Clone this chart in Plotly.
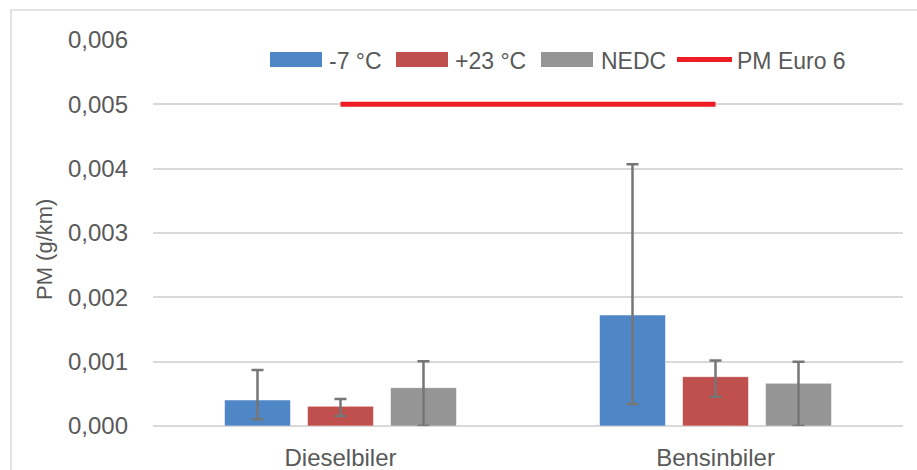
import plotly.graph_objects as go

categories = ["Dieselbiler", "Bensinbiler"]
series_names = ["-7 °C", "+23 °C", "NEDC"]
line_name = "PM Euro 6"
values_m7 = [0.000404, 0.001725]
err_hi_m7 = [0.00087, 0.00407]
err_lo_m7 = [0.000104, 0.000342]
values_p23 = [0.000306, 0.000767]
err_hi_p23 = [0.00042, 0.00102]
err_lo_p23 = [0.000155, 0.000456]
values_nedc = [0.000596, 0.000663]
err_hi_nedc = [0.001006, 0.001]
err_lo_nedc = [0.0, 0.0]
euro6_limit = [0.005, 0.005]
y_ticks = [0, 0.001, 0.002, 0.003, 0.004, 0.005, 0.006]

colors = ["#4f86c6", "#c0504d", "#959595"]
LINE_COLOR = "#ee1c25"
FONT = "Liberation Sans"
TXT = "#595959"

# plot-area geometry (pixels)
L, R, T, B = 153, 14, 40, 44
W, H = 917, 470
PW, PH = W - L - R, H - T - B


def px(x):
    return (x - L) / PW


def py(y):
    return (H - B - y) / PH


fig = go.Figure()
for name, vals, hi, lo, col in [
    (series_names[0], values_m7, err_hi_m7, err_lo_m7, colors[0]),
    (series_names[1], values_p23, err_hi_p23, err_lo_p23, colors[1]),
    (series_names[2], values_nedc, err_hi_nedc, err_lo_nedc, colors[2]),
]:
    fig.add_trace(go.Bar(
        x=categories, y=vals, name=name, showlegend=False,
        marker=dict(color=col, line=dict(color="rgba(255,255,255,0.5)", width=1)),
        error_y=dict(type="data", symmetric=False,
                     array=[h - v for h, v in zip(hi, vals)],
                     arrayminus=[v - l for v, l in zip(vals, lo)],
                     color="#767676", thickness=2.5, width=6),
    ))

fig.add_trace(go.Scatter(
    x=categories, y=euro6_limit, name=line_name, mode="lines", showlegend=False,
    line=dict(color=LINE_COLOR, width=5),
))

fig.update_layout(
    width=W, height=H,
    margin=dict(l=L, r=R, t=T, b=B, autoexpand=False),
    plot_bgcolor="white", paper_bgcolor="white",
    separators=",.",
    barmode="group", bargap=0.336, bargroupgap=0.205,
    font=dict(family=FONT, color=TXT, size=22),
    xaxis=dict(showgrid=False, tickfont=dict(size=24, color=TXT), ticks="", showline=False,
               range=[-0.5, 1.5], ticklabelstandoff=15, automargin=False),
    yaxis=dict(range=[0, 0.006], tickvals=y_ticks, tickformat=".3f",
               showgrid=True, gridcolor="#d9d9d9", gridwidth=1.5,
               zeroline=True, zerolinecolor="#d9d9d9", zerolinewidth=1.5,
               tickfont=dict(size=24, color=TXT), ticklabelstandoff=24, automargin=False),
    showlegend=False,
)

# y-axis title
fig.add_annotation(text="PM (g/km)", xref="paper", yref="paper", x=px(45), y=py(250),
                   textangle=-90, showarrow=False, xanchor="center", yanchor="middle",
                   font=dict(size=22, color=TXT, family=FONT))

# custom legend
legend_items = [
    (series_names[0], colors[0], 270, 322, 327, "box"),
    (series_names[1], colors[1], 396, 448, 453, "box"),
    (series_names[2], colors[2], 541, 593, 599, "box"),
    (line_name, LINE_COLOR, 677, 732, 735, "line"),
]
for label, col, x0, x1, tx, kind in legend_items:
    if kind == "box":
        fig.add_shape(type="rect", xref="paper", yref="paper",
                      x0=px(x0), x1=px(x1), y0=py(67), y1=py(52),
                      fillcolor=col, line=dict(width=0))
    else:
        fig.add_shape(type="line", xref="paper", yref="paper",
                      x0=px(x0), x1=px(x1), y0=py(59.5), y1=py(59.5),
                      line=dict(color=col, width=5))
    fig.add_annotation(text=label, xref="paper", yref="paper", x=px(tx), y=py(61),
                       xanchor="left", yanchor="middle", showarrow=False,
                       font=dict(size=23, color=TXT, family=FONT))

# outer chart border
fig.add_shape(type="rect", xref="paper", yref="paper",
              x0=px(11), x1=px(W + 20), y0=py(H + 20), y1=py(10),
              line=dict(color="#d9d9d9", width=1.5), fillcolor="rgba(0,0,0,0)", layer="below")

fig.write_html("out.html", config={"displayModeBar": False},
               post_script="document.body.style.margin='0';document.body.style.padding='0';")
